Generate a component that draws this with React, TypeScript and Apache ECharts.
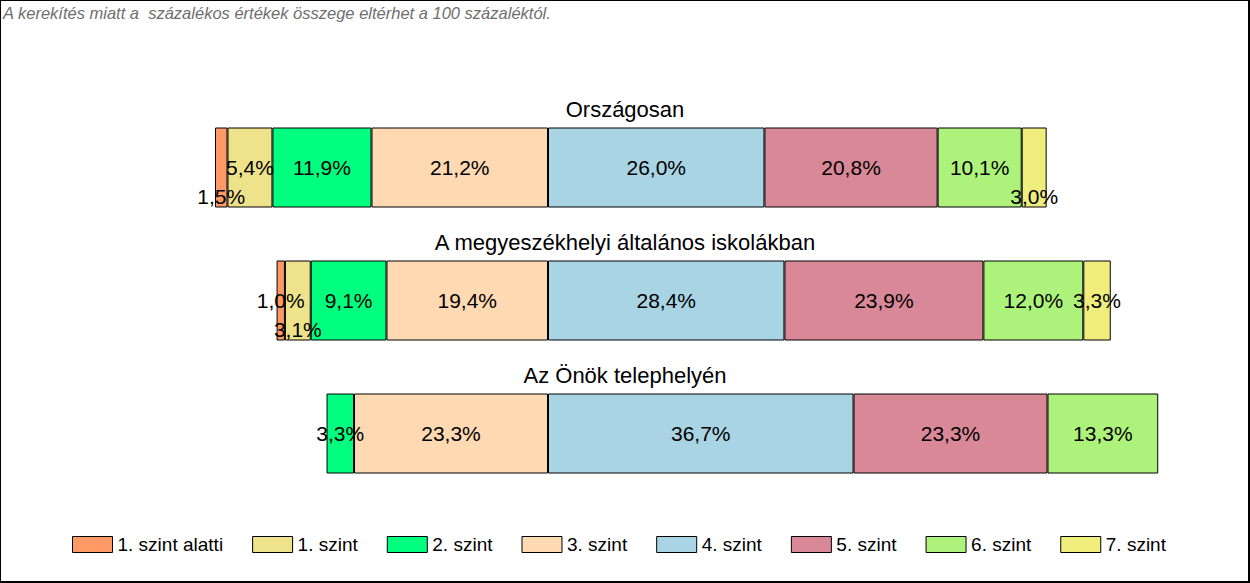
import React, { useEffect, useRef } from "react";
import * as echarts from "echarts";

const categories = [
  "Országosan",
  "A megyeszékhelyi általános iskolákban",
  "Az Önök telephelyén",
];
const levelNames = [
  "1. szint alatti",
  "1. szint",
  "2. szint",
  "3. szint",
  "4. szint",
  "5. szint",
  "6. szint",
  "7. szint",
];
const levelColors = [
  "#FF9966",
  "#EEE28A",
  "#00FF7F",
  "#FFD9B2",
  "#A8D4E3",
  "#D98898",
  "#ADF27A",
  "#EFEE7C",
];
// percentages per level, for each category (top to bottom)
const belowLevel1 = [1.5, 1.0, 0];
const level1 = [5.4, 3.1, 0];
const level2 = [11.9, 9.1, 3.3];
const level3 = [21.2, 19.4, 23.3];
const level4 = [26.0, 28.4, 36.7];
const level5 = [20.8, 23.9, 23.3];
const level6 = [10.1, 12.0, 13.3];
const level7 = [3.0, 3.3, 0];
const noteText =
  "A kerekítés miatt a  százalékos értékek összege eltérhet a 100 százaléktól.";

const FONT = "'Liberation Sans', Arial, sans-serif";

export default function App() {
  const ref = useRef<HTMLDivElement>(null);

  useEffect(() => {
    document.body.style.margin = "0";
    if (!ref.current) return;
    const chart = echarts.init(ref.current, undefined, { renderer: "svg" });

    const values = [belowLevel1, level1, level2, level3, level4, level5, level6, level7];
    // labels of narrow segments moved below the centre line (series index, category index)
    const shifted: [number, number][] = [
      [0, 0],
      [7, 0],
      [1, 1],
    ];
    // levels below 4 grow leftwards from the 3|4 boundary
    const order = [3, 2, 1, 0, 4, 5, 6, 7];
    const series = order.map((li) => {
      const neg = li < 4;
      return {
        name: levelNames[li],
        type: "bar",
        stack: "total",
        barWidth: 80,
        itemStyle: { color: levelColors[li], borderColor: "#000", borderWidth: 1 },
        label: {
          show: true,
          position: "inside",
          color: "#000",
          fontFamily: FONT,
          fontSize: 21,
          formatter: (p: any) =>
            typeof p.value === "number" && p.value !== 0
              ? Math.abs(p.value).toFixed(1).replace(".", ",") + "%"
              : "",
        },
        data: values[li].map((v, ci) => {
          if (!v) return "-";
          const isShifted = shifted.some(([s, c]) => s === li && c === ci);
          return isShifted
            ? { value: neg ? -v : v, label: { offset: [0, 29] } }
            : neg
            ? -v
            : v;
        }),
      };
    });

    chart.setOption({
      animation: false,
      legend: {
        data: levelNames,
        top: 535,
        left: 72,
        padding: 0,
        itemWidth: 40,
        itemHeight: 16,
        itemGap: 29,
        icon: "rect",
        itemStyle: { borderColor: "#000", borderWidth: 1 },
        textStyle: { fontFamily: FONT, fontSize: 19, color: "#000" },
      },
      grid: { left: 215, width: 999, top: 101, height: 399 },
      xAxis: {
        type: "value",
        min: -40,
        max: 80,
        show: false,
      },
      yAxis: {
        type: "category",
        data: categories,
        inverse: true,
        show: false,
      },
      series,
    });

    const titles = categories.map((c, i) => {
      const yc = chart.convertToPixel({ yAxisIndex: 0 }, i) as number;
      return {
        type: "text",
        x: 625,
        y: yc - 58,
        style: {
          text: c,
          fontFamily: FONT,
          fontSize: 22,
          fill: "#000",
          textAlign: "center",
          textVerticalAlign: "middle",
        },
      };
    });

    chart.setOption({
      graphic: [
        {
          type: "text",
          x: 3,
          y: 13,
          style: {
            text: noteText,
            fontFamily: FONT,
            fontSize: 16.5,
            fontStyle: "italic",
            fill: "#6E6E6E",
            textVerticalAlign: "middle",
          },
        },
        ...titles,
      ],
    });

    return () => chart.dispose();
  }, []);

  return (
    <div style={{ position: "relative", width: 1250, height: 583 }}>
      <div ref={ref} style={{ position: "absolute", left: 0, top: 0, width: 1250, height: 583 }} />
      <div
        style={{
          position: "absolute",
          left: 0,
          top: 0,
          width: 1250,
          height: 583,
          boxSizing: "border-box",
          borderTop: "1px solid #000",
          borderLeft: "1px solid #000",
          borderRight: "2px solid #000",
          borderBottom: "2px solid #000",
          pointerEvents: "none",
        }}
      />
    </div>
  );
}
